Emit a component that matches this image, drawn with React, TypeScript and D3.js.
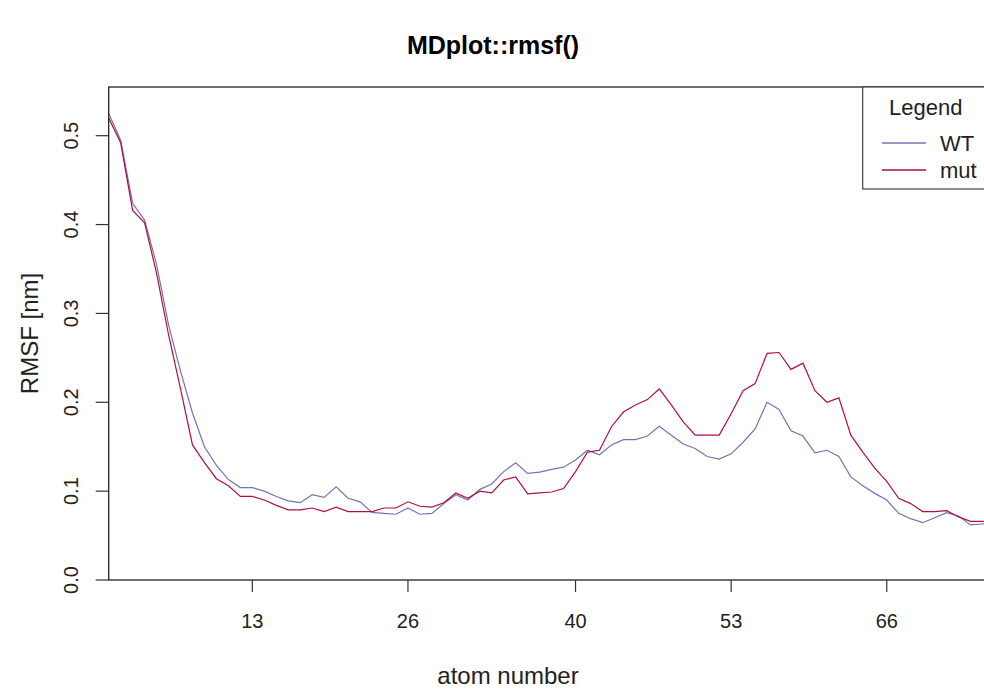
import * as d3 from "d3";

const width = 984;
const height = 690;

// plot box edges (right edge runs past the window, as in the reference)
const left = 108.7;
const top = 87;
const bottom = 580;
const pxPerAtom = 11.97;

const atoms = d3.range(1, 76);

const wt = [
	0.525, 0.495, 0.424, 0.405, 0.355, 0.287, 0.235, 0.188, 0.15, 0.129,
	0.113, 0.104, 0.104, 0.1, 0.094, 0.089, 0.087, 0.096, 0.093, 0.105,
	0.092, 0.088, 0.076, 0.075, 0.074, 0.081, 0.074, 0.075, 0.086, 0.096,
	0.09, 0.102, 0.108, 0.122, 0.132, 0.12, 0.1215, 0.1245, 0.127, 0.135,
	0.146, 0.141, 0.152, 0.158, 0.158, 0.162, 0.173, 0.163, 0.153, 0.148,
	0.139, 0.136, 0.142, 0.155, 0.17, 0.2, 0.192, 0.168, 0.162, 0.143,
	0.146, 0.139, 0.116, 0.106, 0.0975, 0.09, 0.075, 0.069, 0.0645, 0.07,
	0.0757, 0.072, 0.062, 0.063, 0.064,
];

const mut = [
	0.52, 0.492, 0.416, 0.402, 0.345, 0.276, 0.215, 0.152, 0.132, 0.114,
	0.106, 0.094, 0.094, 0.09, 0.084, 0.079, 0.079, 0.081, 0.077, 0.082,
	0.077, 0.077, 0.077, 0.081, 0.081, 0.088, 0.083, 0.082, 0.087, 0.098,
	0.092, 0.1, 0.098, 0.1125, 0.116, 0.097, 0.098, 0.099, 0.103, 0.122,
	0.144, 0.146, 0.1725, 0.189, 0.197, 0.203, 0.215, 0.197, 0.178, 0.163,
	0.163, 0.163, 0.187, 0.213, 0.221, 0.255, 0.256, 0.237, 0.244, 0.213,
	0.2, 0.205, 0.163, 0.144, 0.126, 0.111, 0.092, 0.086, 0.077, 0.077,
	0.078, 0.071, 0.066, 0.066, 0.067,
];

const xTicks = [13, 26, 40, 53, 66];
const yTicks = [0, 0.1, 0.2, 0.3, 0.4, 0.5];

const series = [
	{ name: "WT", values: wt, color: "#7373b5" },
	{ name: "mut", values: mut, color: "#ad1040" },
];

const font = "'Liberation Sans', Arial, sans-serif";

export default function App() {
	const xScale = d3
		.scaleLinear()
		.domain([1, 80])
		.range([left, left + 79 * pxPerAtom]);

	const yScale = d3.scaleLinear().domain([0, 0.5]).range([bottom, 135.7]);

	const line = d3
		.line<number>()
		.x((_, i) => xScale(atoms[i]))
		.y((d) => yScale(d));

	const right = xScale(80);

	return (
		<svg
			width={width}
			height={height}
			style={{ position: "absolute", left: 0, top: 0, background: "#fff" }}
			fontFamily={font}
		>
			<rect x={0} y={0} width={width} height={height} fill="#fff" />

			<text
				x={493}
				y={54}
				textAnchor="middle"
				fontWeight="bold"
				fontSize={25}
			>
				MDplot::rmsf()
			</text>

			{/* data */}
			<g fill="none" strokeWidth={1.2}>
				{series.map((s) => (
					<path key={s.name} d={line(s.values) ?? ""} stroke={s.color} />
				))}
			</g>

			{/* plot box */}
			<rect
				x={left}
				y={top}
				width={right - left}
				height={bottom - top}
				fill="none"
				stroke="#222"
				strokeWidth={1.3}
			/>

			{/* x axis */}
			<g>
				{xTicks.map((t) => (
					<g key={t} transform={`translate(${xScale(t)},${bottom})`}>
						<line y2={12} stroke="#333" strokeWidth={1.2} />
						<text y={48} textAnchor="middle" fontSize={20} fill="#222">
							{t}
						</text>
					</g>
				))}
				<text
					x={508}
					y={684}
					textAnchor="middle"
					fontSize={24}
					fill="#222"
				>
					atom number
				</text>
			</g>

			{/* y axis */}
			<g>
				{yTicks.map((t) => (
					<g key={t} transform={`translate(${left},${yScale(t)})`}>
						<line x2={-13} stroke="#333" strokeWidth={1.2} />
						<text
							transform="translate(-31,0) rotate(-90)"
							textAnchor="middle"
							fontSize={20}
							fill="#222"
						>
							{t.toFixed(1)}
						</text>
					</g>
				))}
				<text
					transform={`translate(38,${(top + bottom) / 2}) rotate(-90)`}
					textAnchor="middle"
					fontSize={24}
					fill="#222"
				>
					RMSF [nm]
				</text>
			</g>

			{/* legend */}
			<g>
				<rect
					x={862.7}
					y={top}
					width={200}
					height={102}
					fill="#fff"
					stroke="#333"
					strokeWidth={1.1}
				/>
				<text x={889} y={115} fontSize={22} fill="#222">
					Legend
				</text>
				{series.map((s, i) => (
					<g key={s.name} transform={`translate(882,${143 + i * 27})`}>
						<line x2={44} stroke={s.color} strokeWidth={1.6} />
						<text x={58} y={8} fontSize={22} fill="#222">
							{s.name}
						</text>
					</g>
				))}
			</g>
		</svg>
	);
}
